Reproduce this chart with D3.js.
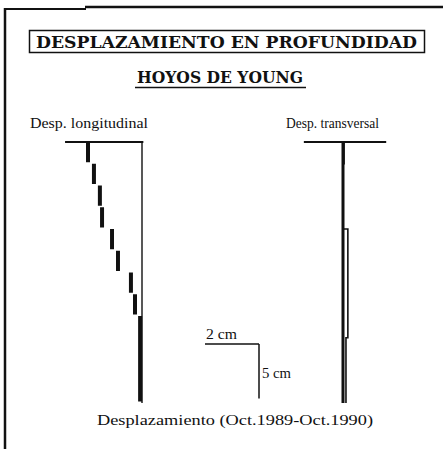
<!DOCTYPE html>
<html>
<head>
<meta charset="utf-8">
<script src="https://cdn.jsdelivr.net/npm/d3@7"></script>
<style>
  html, body { margin: 0; padding: 0; background: #fff; }
  svg { display: block; }
  text { fill: #111; }
</style>
</head>
<body>
<div id="chart"></div>
<script>
// depth of each interval boundary (cm)
const depths = [0, 2, 4, 6, 8, 10, 12, 14, 16, 18, 20, 22, 24];
// longitudinal displacement per interval (cm, to the left)
const despLongitudinal = [2.0, 1.78, 1.56, 1.48, 1.11, 0.89, 0.41, 0.26, 0.07, 0.07, 0.07, 0.07];
// transversal displacement per interval (cm, to the right)
const despTransversal = [0.04, 0, 0, 0, 0.18, 0.18, 0.18, 0.18, 0.18, 0.11, 0.11, 0.11];
// extent of the top (surface) line for each profile, cm
const topLongitudinal = [-0.05, 2.85];
const topTransversal = [-1.45, 1.6];
const scaleBar = { horiz: 2, vert: 5 };

const width = 443;
const height = 449;

const svg = d3.select('#chart')
  .append('svg')
  .attr('width', width)
  .attr('height', height);

// frame (only top and left edges are visible)
svg.append('line').attr('x1', 4).attr('x2', 86).attr('y1', 9).attr('y2', 9)
  .attr('stroke', '#111').attr('stroke-width', 2);
svg.append('line').attr('x1', 85).attr('x2', width).attr('y1', 7).attr('y2', 7)
  .attr('stroke', '#111').attr('stroke-width', 2.5);
svg.append('line').attr('x1', 5).attr('x2', 5).attr('y1', 8).attr('y2', height)
  .attr('stroke', '#111').attr('stroke-width', 2.5);

const titleFont = '"DejaVu Serif", serif';

// title box
svg.append('rect')
  .attr('x', 29.5).attr('y', 30.5).attr('width', 395).attr('height', 22)
  .attr('fill', 'none').attr('stroke', '#111').attr('stroke-width', 1.5);
svg.append('text')
  .attr('x', 36).attr('y', 48)
  .attr('textLength', 381).attr('lengthAdjust', 'spacingAndGlyphs')
  .style('font-family', titleFont)
  .style('font-weight', 'bold')
  .style('font-size', '16px')
  .text('DESPLAZAMIENTO EN PROFUNDIDAD');

svg.append('text')
  .attr('x', 137).attr('y', 83)
  .attr('textLength', 166).attr('lengthAdjust', 'spacingAndGlyphs')
  .style('font-family', titleFont)
  .style('font-weight', 'bold')
  .style('font-size', '16px')
  .text('HOYOS DE YOUNG');
svg.append('line').attr('x1', 135).attr('x2', 306).attr('y1', 87.5).attr('y2', 87.5)
  .attr('stroke', '#111').attr('stroke-width', 1.5);

const y = d3.scaleLinear().domain([0, 24]).range([142, 403]);
const pxPerCm = 27;
const xLong = d3.scaleLinear().domain([0, 1]).range([142, 142 - pxPerCm]);
const xTrans = d3.scaleLinear().domain([0, 1]).range([343, 343 + pxPerCm]);

const labelFont = '"Liberation Serif", "DejaVu Serif", serif';

// ---- longitudinal panel
svg.append('text')
  .attr('x', 30).attr('y', 128)
  .attr('textLength', 118).attr('lengthAdjust', 'spacingAndGlyphs')
  .style('font-family', labelFont).style('font-size', '15px')
  .text('Desp. longitudinal');

svg.append('line')
  .attr('x1', xLong(topLongitudinal[1])).attr('x2', xLong(topLongitudinal[0]))
  .attr('y1', y(0)).attr('y2', y(0))
  .attr('stroke', '#111').attr('stroke-width', 1.8);
svg.append('line')
  .attr('x1', xLong(0)).attr('x2', xLong(0))
  .attr('y1', y(0)).attr('y2', y(depths[depths.length - 1]))
  .attr('stroke', '#111').attr('stroke-width', 1.4);

// merge consecutive intervals with the same displacement into one bar
const runs = [];
despLongitudinal.forEach((d, i) => {
  const last = runs[runs.length - 1];
  if (last && last.value === d) last.end = depths[i + 1];
  else runs.push({ value: d, start: depths[i], end: depths[i + 1] });
});

svg.append('g')
  .selectAll('line')
  .data(runs)
  .join('line')
  .attr('x1', (d) => xLong(d.value))
  .attr('x2', (d) => xLong(d.value))
  .attr('y1', (d) => y(d.start))
  .attr('y2', (d) => y(d.end) - 1.5)
  .attr('stroke', '#111')
  .attr('stroke-width', 4);

// ---- transversal panel
svg.append('text')
  .attr('x', 286).attr('y', 128)
  .attr('textLength', 93).attr('lengthAdjust', 'spacingAndGlyphs')
  .style('font-family', labelFont).style('font-size', '15px')
  .text('Desp. transversal');

svg.append('line')
  .attr('x1', xTrans(topTransversal[0])).attr('x2', xTrans(topTransversal[1]))
  .attr('y1', y(0)).attr('y2', y(0))
  .attr('stroke', '#111').attr('stroke-width', 1.8);
svg.append('line')
  .attr('x1', xTrans(0)).attr('x2', xTrans(0))
  .attr('y1', y(0)).attr('y2', y(depths[depths.length - 1]))
  .attr('stroke', '#111').attr('stroke-width', 3);

const stepPts = [];
despTransversal.forEach((d, i) => {
  stepPts.push([xTrans(d), y(depths[i])]);
  stepPts.push([xTrans(d), y(depths[i + 1])]);
});
svg.append('path')
  .attr('d', d3.line()(stepPts))
  .attr('fill', 'none')
  .attr('stroke', '#111')
  .attr('stroke-width', 1.6);

// ---- scale bar
const cornerX = xTrans(0) - 84;
const cornerY = 344;
const yScale5 = (y(scaleBar.vert) - y(0));
svg.append('line')
  .attr('x1', cornerX - scaleBar.horiz * pxPerCm).attr('x2', cornerX)
  .attr('y1', cornerY).attr('y2', cornerY)
  .attr('stroke', '#111').attr('stroke-width', 1.5);
svg.append('line')
  .attr('x1', cornerX).attr('x2', cornerX)
  .attr('y1', cornerY).attr('y2', cornerY + yScale5)
  .attr('stroke', '#111').attr('stroke-width', 1.5);
svg.append('text')
  .attr('x', cornerX - 53).attr('y', cornerY - 5)
  .attr('textLength', 31).attr('lengthAdjust', 'spacingAndGlyphs')
  .style('font-family', labelFont).style('font-size', '15px')
  .text(`${scaleBar.horiz} cm`);
svg.append('text')
  .attr('x', cornerX + 3).attr('y', cornerY + 34)
  .attr('textLength', 29).attr('lengthAdjust', 'spacingAndGlyphs')
  .style('font-family', labelFont).style('font-size', '15px')
  .text(`${scaleBar.vert} cm`);

// caption
svg.append('text')
  .attr('x', 97).attr('y', 425)
  .attr('textLength', 276).attr('lengthAdjust', 'spacingAndGlyphs')
  .style('font-family', labelFont).style('font-size', '15px')
  .text('Desplazamiento (Oct.1989-Oct.1990)');
</script>
</body>
</html>
